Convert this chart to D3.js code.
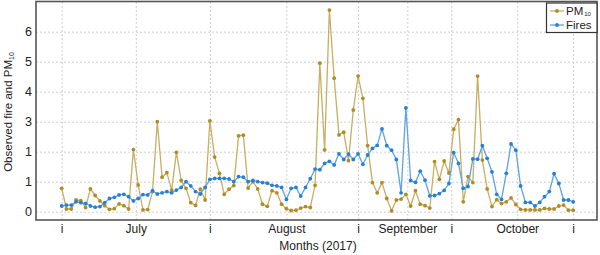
<!DOCTYPE html>
<html>
<head>
<meta charset="utf-8">
<script src="https://cdn.jsdelivr.net/npm/d3@7"></script>
<style>
  body { margin: 0; background: #fff; }
  svg { font-family: "Liberation Sans", Arial, sans-serif; }
</style>
</head>
<body>
<div id="chart"></div>
<script>
// daily values (axis units)
var pm10 = [0.78, 0.09, 0.09, 0.39, 0.37, 0.14, 0.76, 0.54, 0.36, 0.2,
  0.08, 0.1, 0.26, 0.2, 0.09, 2.07, 0.89, 0.06, 0.07, 0.67,
  3.0, 1.15, 1.3, 0.72, 1.98, 1.04, 0.78, 0.3, 0.21, 0.75,
  0.39, 3.03, 1.82, 1.28, 0.58, 0.75, 0.87, 2.53, 2.55, 0.79,
  1.0, 0.76, 0.25, 0.18, 0.7, 0.63, 0.25, 0.1, 0.04, 0.05,
  0.12, 0.17, 0.14, 0.88, 4.95, 2.06, 6.72, 4.45, 2.56, 2.65,
  1.7, 3.39, 4.52, 3.78, 2.2, 0.97, 0.63, 0.97, 0.44, 0.03,
  0.39, 0.42, 0.58, 0.19, 0.7, 0.25, 0.2, 0.12, 1.67, 1.08,
  1.69, 1.29, 2.75, 3.07, 0.33, 1.17, 0.97, 4.52, 1.72, 0.76,
  0.17, 0.4, 0.27, 0.33, 0.46, 0.24, 0.08, 0.06, 0.06, 0.06,
  0.06, 0.11, 0.09, 0.09, 0.19, 0.22, 0.05, 0.05]

var fires = [0.19, 0.22, 0.22, 0.33, 0.3, 0.28, 0.19, 0.15, 0.17, 0.3,
  0.44, 0.48, 0.56, 0.58, 0.5, 0.36, 0.44, 0.57, 0.56, 0.7,
  0.59, 0.63, 0.67, 0.63, 0.72, 0.81, 1.0, 0.86, 0.67, 0.59,
  0.81, 1.08, 1.11, 1.11, 1.11, 1.09, 1.0, 1.17, 1.15, 1.0,
  1.04, 1.0, 0.97, 0.95, 0.88, 0.86, 0.81, 0.41, 0.78, 0.81,
  0.52, 0.81, 1.1, 1.42, 1.4, 1.61, 1.68, 1.56, 1.93, 1.74,
  1.92, 1.74, 1.93, 1.58, 1.89, 2.11, 2.21, 2.76, 2.2, 2.05,
  1.74, 0.63, 3.46, 1.04, 0.98, 1.35, 1.05, 0.53, 0.54, 0.6,
  0.71, 0.94, 1.97, 1.61, 0.78, 0.84, 1.76, 1.75, 2.2, 1.78,
  1.33, 0.58, 0.41, 1.28, 2.26, 2.05, 0.86, 0.31, 0.31, 0.19,
  0.31, 0.5, 0.67, 1.27, 0.94, 0.39, 0.39, 0.33]

// x ticks (day index) and their labels
var xTickDays = [0, 15.5, 31, 47, 62, 72.3, 81.5, 95.3, 107]
var xTickLabels = ["i", "July", "i", "August", "i", "September", "i", "October", "i"]

// y ticks and labels (as printed on the original)
var yTickValues = [0, 1, 2, 3, 4, 5, 6]
var yTickLabels = ["0", "1", "1", "3", "4", "5", "6"]

const width = 600
const height = 255
const frame = {left: 36, right: 597, top: 1.5, bottom: 220}

const pmColor = "#b08d23"
const pmLine = "#c8ad62"
const fireColor = "#2680d6"
const fireLine = "#5ea3e3"

var svg = d3.select("#chart").append("svg")
    .attr("width", width)
    .attr("height", height)

var xScale = d3.scaleLinear()
    .domain([0, pm10.length - 1])
    .range([61.7, 573.2])

var yScale = d3.scaleLinear()
    .domain([0, 6])
    .range([211.7, 31.7])

// grid lines
svg.append("g")
    .attr("class", "grid-y")
    .attr("transform", "translate(" + frame.left + ",0)")
    .call(d3.axisLeft(yScale).tickValues(yTickValues).tickSize(-(frame.right - frame.left)).tickFormat(""))
    .call(g => g.select(".domain").remove())
    .selectAll("line")
      .attr("stroke", "#cfcfcf")
      .attr("stroke-dasharray", "2,2")

svg.append("g")
    .attr("class", "grid-x")
    .attr("transform", "translate(0," + frame.bottom + ")")
    .call(d3.axisBottom(xScale).tickValues(xTickDays).tickSize(-(frame.bottom - frame.top)).tickFormat(""))
    .call(g => g.select(".domain").remove())
    .selectAll("line")
      .attr("stroke", "#cfcfcf")
      .attr("stroke-dasharray", "2,2")

// frame
svg.append("rect")
    .attr("x", frame.left)
    .attr("y", frame.top)
    .attr("width", frame.right - frame.left)
    .attr("height", frame.bottom - frame.top)
    .attr("fill", "none")
    .attr("stroke", "#555")
    .attr("stroke-width", 1.6)

// y axis labels
svg.append("g")
    .attr("class", "y-axis")
    .attr("transform", "translate(" + frame.left + ",0)")
    .call(d3.axisLeft(yScale).tickValues(yTickValues).tickSize(0).tickPadding(4)
      .tickFormat(function(d, i) { return yTickLabels[i]; }))
    .call(g => g.select(".domain").remove())
    .selectAll("text")
      .attr("font-size", 12.5)
      .attr("font-family", "Liberation Sans, Arial, sans-serif")
      .attr("fill", "#222")

// x axis labels
svg.append("g")
    .attr("class", "x-axis")
    .attr("transform", "translate(0," + frame.bottom + ")")
    .call(d3.axisBottom(xScale).tickValues(xTickDays).tickSize(0).tickPadding(4)
      .tickFormat(function(d, i) { return xTickLabels[i]; }))
    .call(g => g.select(".domain").remove())
    .selectAll("text")
      .attr("font-size", 12)
      .attr("font-family", "Liberation Sans, Arial, sans-serif")
      .attr("fill", "#222")

// axis titles
svg.append("text")
    .attr("x", 318)
    .attr("y", 250)
    .attr("text-anchor", "middle")
    .attr("font-size", 12)
    .attr("fill", "#222")
    .text("Months (2017)")

var yTitle = svg.append("text")
    .attr("transform", "translate(12,112) rotate(-90)")
    .attr("text-anchor", "middle")
    .attr("font-size", 11.5)
    .attr("fill", "#222")
yTitle.append("tspan").text("Observed fire and PM")
yTitle.append("tspan").attr("font-size", 7).attr("dy", 2).text("10")

// lines + points
function drawSeries(values, lineColor, dotColor) {
  var line = d3.line()
      .x(function(d, i) { return xScale(i); })
      .y(function(d) { return yScale(d); })

  svg.append("path")
      .datum(values)
      .attr("fill", "none")
      .attr("stroke", lineColor)
      .attr("stroke-width", 1.3)
      .attr("d", line)

  svg.append("g")
    .selectAll("circle")
      .data(values)
      .enter()
      .append("circle")
      .attr("cx", function(d, i) { return xScale(i); })
      .attr("cy", function(d) { return yScale(d); })
      .attr("r", 1.9)
      .attr("fill", dotColor)
}

drawSeries(pm10, pmLine, pmColor)
drawSeries(fires, fireLine, fireColor)

// legend
var legend = svg.append("g").attr("class", "legend")
legend.append("rect")
    .attr("x", 546.5)
    .attr("y", 3)
    .attr("width", 50.5)
    .attr("height", 29.5)
    .attr("fill", "#fff")
    .attr("stroke", "#333")
    .attr("stroke-width", 1.2)

var legendItems = [
  {name: "PM", sub: "10", line: pmLine, dot: pmColor, y: 11},
  {name: "Fires", sub: "", line: fireLine, dot: fireColor, y: 25}
]

legendItems.forEach(function(item) {
  legend.append("line")
      .attr("x1", 550).attr("x2", 564)
      .attr("y1", item.y).attr("y2", item.y)
      .attr("stroke", item.line)
      .attr("stroke-width", 1.3)
  legend.append("circle")
      .attr("cx", 557).attr("cy", item.y).attr("r", 1.9)
      .attr("fill", item.dot)
  var t = legend.append("text")
      .attr("x", 566)
      .attr("y", item.y + 4)
      .attr("font-size", 11.5)
      .attr("fill", "#222")
  t.append("tspan").text(item.name)
  if (item.sub) t.append("tspan").attr("font-size", 6).attr("dy", 1).attr("dx", 1).text(item.sub)
})
</script>
</body>
</html>
